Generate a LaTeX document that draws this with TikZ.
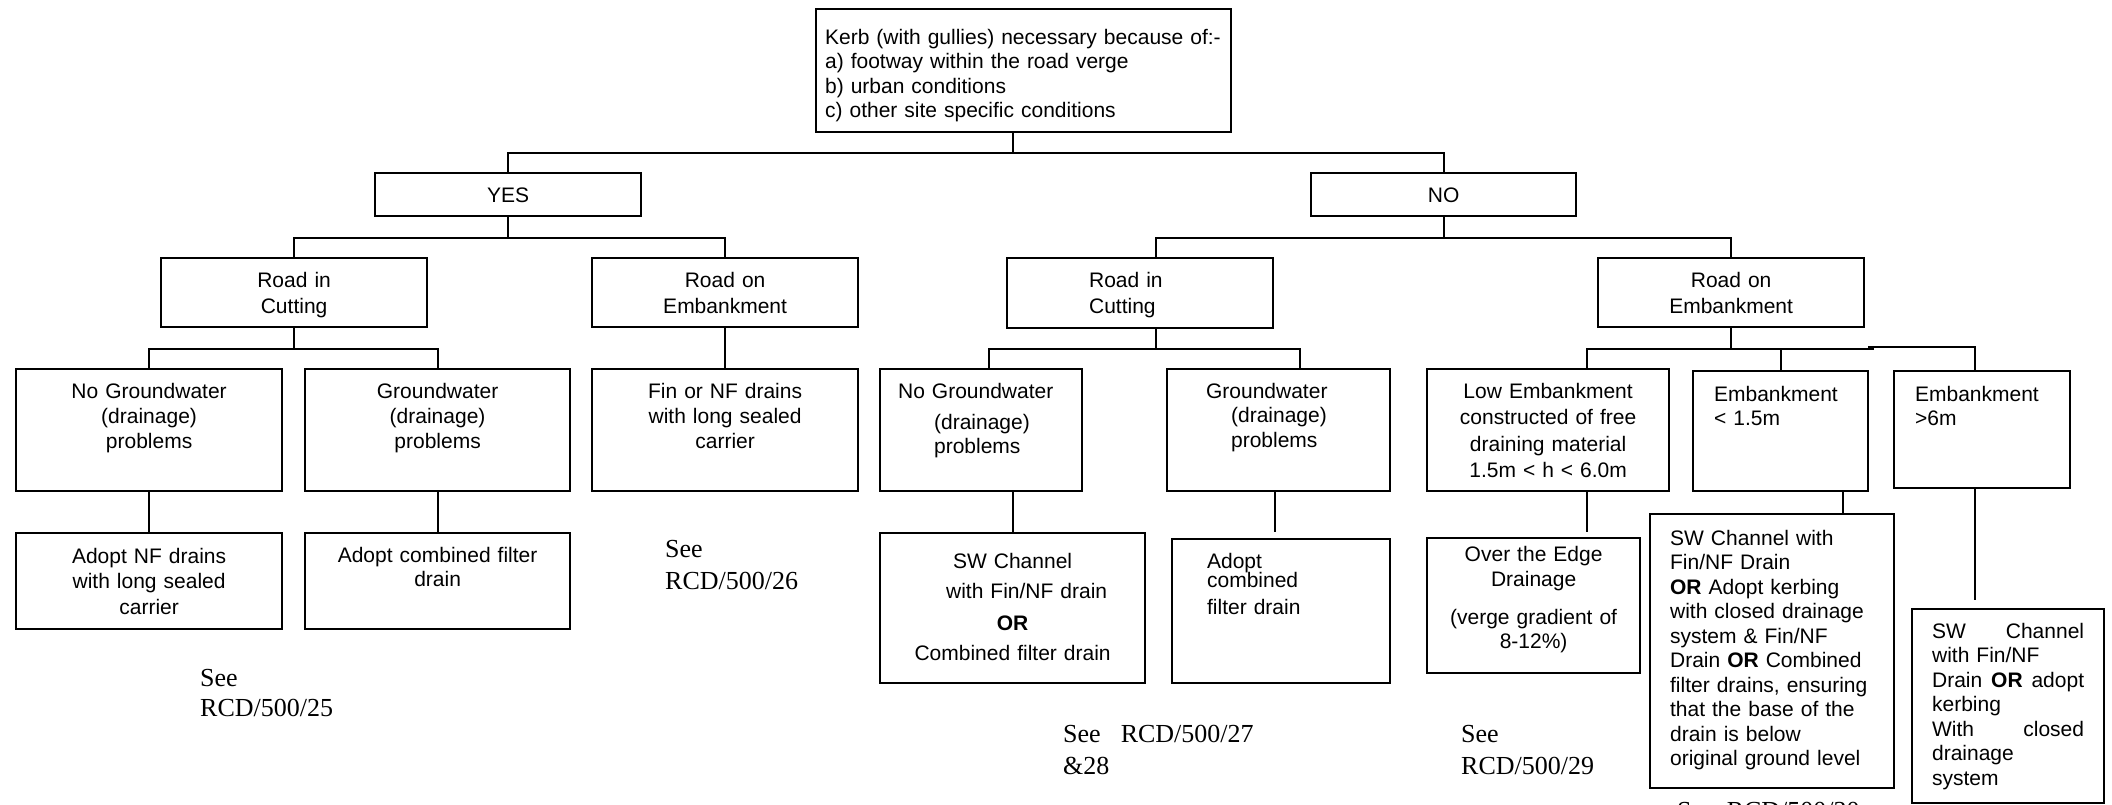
\documentclass[tikz,border=0pt]{standalone}
\usepackage{fontspec}
\setmainfont{Liberation Sans}
\newfontfamily\reffont{Liberation Serif}
\usetikzlibrary{calc}
\tikzset{
	box/.style={draw,line width=2.2pt,anchor=north west,inner sep=0pt,font=\fontsize{21}{24.5}\selectfont},
	link/.style={line width=2pt},
	seeref/.style={anchor=base west,inner sep=0pt,text width=300pt,align=left,font=\reffont\fontsize{26}{31}\selectfont}
}

\begin{document}
\begin{tikzpicture}[x=1pt,y=-1pt]
\useasboundingbox (0,0) rectangle (2112,805);
\node[box,text width=407pt,inner xsep=4pt,text height=35pt,text depth=88pt,align=left] (kerb) at (815,8)
	{\hspace*{5pt}Kerb (with gullies) necessary because of:-\\\hspace*{5pt}a) footway within the road verge\\\hspace*{5pt}b) urban conditions\\\hspace*{5pt}c) other site specific conditions};
\node[box,text width=266pt,text height=29pt,text depth=14pt,align=center] (yes) at (374,172) {YES};
\node[box,text width=265pt,text height=29pt,text depth=14pt,align=center] (no) at (1310,172) {NO};
%
\node[box,text width=266pt,text height=29pt,text depth=40pt,align=center] (ycut) at (160,257) {Road in\\[2pt]Cutting};
\node[box,text width=266pt,text height=29pt,text depth=40pt,align=center] (yemb) at (591,257) {Road on\\[2pt]Embankment};
\node[box,text width=102pt,inner xsep=82pt,text height=29pt,text depth=41pt,align=left] (ncut) at (1006,257) {Road in\\[2pt]Cutting};
\node[box,text width=266pt,text height=29pt,text depth=40pt,align=center] (nemb) at (1597,257) {Road on\\[2pt]Embankment};
%
\node[box,text width=266pt,text height=29pt,text depth=93pt,align=center] (ynogw) at (15,368) {No Groundwater\\[1pt](drainage)\\problems};
\node[box,text width=265pt,text height=29pt,text depth=93pt,align=center] (ygw) at (304,368) {Groundwater\\[1pt](drainage)\\problems};
\node[box,text width=266pt,text height=29pt,text depth=93pt,align=center] (yfin) at (591,368) {Fin or NF drains\\[1pt]with long sealed\\carrier};
\node[box,text width=166pt,inner xsep=18pt,text height=29pt,text depth=93pt,align=left] (nnogw) at (879,368)
	{No Groundwater\\[7pt]\hspace*{36pt}(drainage)\\[-1pt]\hspace*{36pt}problems};
\node[box,text width=145pt,inner xsep=39pt,text height=29pt,text depth=93pt,align=left] (ngw) at (1166,368)
	{Groundwater\\\hspace*{25pt}(drainage)\\\hspace*{25pt}problems};
\node[box,text width=242pt,text height=29pt,text depth=93pt,align=center] (lowemb) at (1426,368)
	{Low Embankment\\[2pt]constructed of free\\[2pt]draining material\\[2pt]1.5m < h < 6.0m};
\node[box,text width=133pt,inner xsep=21pt,text height=30pt,text depth=90pt,align=left] (emb15) at (1692,370) {Embankment\\< 1.5m};
\node[box,text width=134pt,inner xsep=21pt,text height=30pt,text depth=87pt,align=left] (emb6) at (1893,370) {Embankment\\>6m};
%
\node[box,text width=266pt,text height=30pt,text depth=66pt,align=center] (ynfdrain) at (15,532) {Adopt NF drains\\[1pt]with long sealed\\[1pt]carrier};
\node[box,text width=265pt,text height=29pt,text depth=67pt,align=center] (ycomb) at (304,532) {Adopt combined filter\\drain};
\node[box,text width=265pt,text height=35pt,text depth=115pt,align=center] (nsw) at (879,532)
	{SW Channel\\[6pt]\hspace*{28pt}with Fin/NF drain\\[7pt]\textbf{OR}\\[6pt]Combined filter drain};
\node[box,text width=148pt,inner xsep=35pt,text height=29pt,text depth=115pt,align=left] (ncomb) at (1171,538) {Adopt\\[-5pt]combined\\[2pt]filter drain};
\node[box,text width=213pt,text height=23pt,text depth=112pt,align=center] (overedge) at (1426,537)
	{Over the Edge\\[1pt]Drainage\\[13pt](verge gradient of\\8-12\%)};
\node[box,text width=204pt,inner xsep=20pt,text height=31pt,text depth=243pt,align=left] (swlong) at (1649,513)
	{SW Channel with\\Fin/NF Drain\\\textbf{OR} Adopt kerbing\\with closed drainage\\system \& Fin/NF\\Drain \textbf{OR} Combined\\filter drains, ensuring\\that the base of the\\drain is below\\original ground level};
\node[box,text width=152pt,inner xsep=20pt,text height=29pt,text depth=165pt,align=left] (swjust) at (1911,608)
	{SW\hfill Channel\\with Fin/NF\\Drain\hfill\textbf{OR}\hfill adopt\\kerbing\\With\hfill closed\\drainage\\system};
%
\node[seeref] (ref25) at (200,686) {See\\[-1pt]RCD/500/25};
\node[seeref] (ref26) at (665,557) {See\\[1pt]RCD/500/26};
\node[seeref] (ref27) at (1063,742) {See\hspace{20pt}RCD/500/27\\[1pt]\&28};
\node[seeref] (ref29) at (1461,742) {See\\[1pt]RCD/500/29};
\node[seeref] (ref30) at (1677,819) {See\hspace{12pt}RCD/500/30};
%
\draw[link] ([xshift=-11pt]kerb.south) -- ++(0,20) -| (yes.north);
\draw[link] ([xshift=-11pt]kerb.south) -- ++(0,20) -| (no.north);
\draw[link] (yes.south) -- ++(0,21) -| (ycut.north);
\draw[link] (yes.south) -- ++(0,21) -| (yemb.north);
\draw[link] (no.south) -- ++(0,21) -| ([xshift=16pt]ncut.north);
\draw[link] (no.south) -- ++(0,21) -| (nemb.north);
\draw[link] (ycut.south) -- ++(0,21) -| (ynogw.north);
\draw[link] (ycut.south) -- ++(0,21) -| (ygw.north);
\draw[link] (yemb.south) -- (yfin.north);
\draw[link] ([xshift=16pt]ncut.south) -- ++(0,20) -| ([xshift=8pt]nnogw.north);
\draw[link] ([xshift=16pt]ncut.south) -- ++(0,20) -| ([xshift=21pt]ngw.north);
\draw[link] (nemb.south) -- ++(0,21) -| ([xshift=39pt]lowemb.north);
\draw[link] (nemb.south) -- ++(0,21) -| (emb15.north);
\draw[link] (nemb.south) -- ++(0,21) -- ++(143,0) ++(-6,-2) -| ([xshift=-7pt,yshift=-2pt]emb6.north);
%
\draw[link] (ynogw.south) -- (ynfdrain.north);
\draw[link] (ygw.south) -- (ycomb.north);
\draw[link] (nsw.north |- nnogw.south) -- (nsw.north);
\draw[link] ([xshift=-4pt]ngw.south) -- ([xshift=-6.5pt,yshift=6pt]ncomb.north);
\draw[link] ([xshift=39pt]lowemb.south) -- ([xshift=53.5pt,yshift=5pt]overedge.north);
\draw[link] ([xshift=62.5pt]emb15.south) -- ([xshift=71pt]swlong.north);
\draw[link] ([xshift=-7pt]emb6.south) -- ([xshift=-33pt,yshift=8pt]swjust.north);
\end{tikzpicture}
\end{document}
